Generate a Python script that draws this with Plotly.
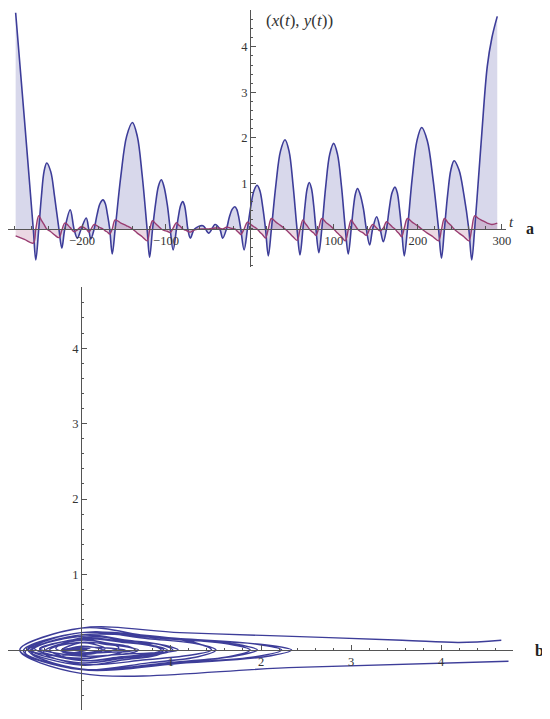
import plotly.graph_objects as go

# ---- data: time t, x(t) (blue), y(t) (purple) ----
T = [-279, -268.5, -258, -255,
     -251.5, -248.3, -245.2, -242, -237.2, -232.7, -227.5, -224,
     -220.5, -214, -209.5, -205.5,
     -201, -195, -192, -189.5,
     -185.5, -182, -178.5, -175, -172.3, -169.7, -167, -164,
     -160.5, -153.7, -146.8, -140, -134.2, -128.3, -122.5, -119.5,
     -116, -112.5, -109, -105.6, -102.5, -98.5, -95, -91.5,
     -87.5, -85, -82.5, -80, -78, -76, -74, -71,
     -66, -56, -49, -41.6, -36, -32.5,
     -28, -24.7, -21.3, -18, -15.7, -13.3, -11, -7,
     -3, 0.8, 4.7, 8.5, 11.8, 15.2, 18.5, 21.8,
     25.5, 30.9, 36.3, 41.7, 46.5, 51.2, 56, 59.5,
     63, 65.5, 68.1, 70.6, 73.2, 75.9, 78.5, 82,
     85.5, 90.2, 94.9, 99.6, 104.2, 108.9, 113.5, 117,
     120.5, 123, 125.5, 128, 131, 135, 138.5, 142.5,
     146, 150.8, 155, 158.7,
     162.5, 165.9, 169.2, 172.6, 175.3, 177.9, 180.5, 183.7,
     187.5, 193.1, 198.8, 204.4, 211.1, 217.8, 224.5, 228,
     231.5, 235.3, 239.2, 243, 248.8, 254.7, 260.5, 264,
     267.5, 272, 276, 282.5, 288, 294.4]
X = [4.75, 2.4, 0, -0.68,
     0, 0.72, 1.26, 1.45, 1.26, 0.72, 0, -0.42,
     0, 0.42, 0, -0.2,
     0, 0.24, 0, -0.22,
     0, 0.32, 0.56, 0.64, 0.56, 0.32, 0, -0.55,
     0, 1.17, 2.04, 2.34, 2.04, 1.17, 0, -0.62,
     0, 0.54, 0.94, 1.08, 0.94, 0.54, 0, -0.46,
     0, 0.3, 0.52, 0.6, 0.52, 0.3, 0, -0.2,
     0, 0.07, -0.09, 0.1, 0, -0.2,
     0, 0.25, 0.43, 0.49, 0.43, 0.25, 0, -0.46,
     0, 0.48, 0.84, 0.96, 0.84, 0.48, 0, -0.59,
     0, 0.98, 1.71, 1.96, 1.71, 0.98, 0, -0.57,
     0, 0.51, 0.89, 1.02, 0.89, 0.51, 0, -0.52,
     0, 0.94, 1.64, 1.88, 1.64, 0.94, 0, -0.55,
     0, 0.45, 0.77, 0.89, 0.77, 0.45, 0, -0.35,
     0, 0.27, 0, -0.28,
     0, 0.46, 0.8, 0.92, 0.8, 0.46, 0, -0.59,
     0, 1.11, 1.94, 2.23, 1.94, 1.11, 0, -0.64,
     0, 0.75, 1.3, 1.5, 1.3, 0.75, 0, -0.68,
     0, 1.1, 2.1, 3.57, 4.2, 4.67]
Y = [-0.15, -0.23, -0.31, 0.0,
     0.29, 0.19, 0.10, 0.0, -0.06, -0.13, -0.19, -0.03,
     0.13, 0.03, -0.06, -0.02,
     0.05, 0.0, -0.07, -0.01,
     0.1, 0.07, 0.03, 0.0, -0.04, -0.07, -0.11, 0.0,
     0.2, 0.13, 0.07, 0.0, -0.09, -0.17, -0.26, -0.03,
     0.18, 0.12, 0.06, 0.0, -0.03, -0.05, -0.08, 0.02,
     0.14, 0.09, 0.05, 0.0, -0.02, -0.03, -0.05, -0.07,
     -0.02, 0.0, 0.0, 0.02, 0.02, 0.0,
     0.04, 0.03, 0.01, 0.0, -0.04, -0.08, -0.12, 0.0,
     0.15, 0.1, 0.05, 0.0, -0.07, -0.13, -0.2, 0.0,
     0.23, 0.15, 0.08, 0.0, -0.08, -0.17, -0.25, -0.02,
     0.2, 0.13, 0.07, 0.0, -0.05, -0.09, -0.14, 0.03,
     0.23, 0.15, 0.08, 0.0, -0.09, -0.17, -0.26, -0.02,
     0.2, 0.13, 0.07, 0.0, -0.05, -0.09, -0.14, 0.0,
     0.1, 0.02, -0.04, 0.02,
     0.16, 0.11, 0.05, 0.0, -0.06, -0.11, -0.17, 0.02,
     0.23, 0.15, 0.08, 0.0, -0.09, -0.17, -0.26, -0.01,
     0.23, 0.15, 0.08, 0.0, -0.09, -0.17, -0.26, 0.0,
     0.29, 0.23, 0.19, 0.13, 0.1, 0.13]

# ticks
A_XTICKS = [-200, -100, 100, 200, 300]
A_XTICKTEXT = ["\u2212200", "\u2212100", "100", "200", "300"]
A_YTICKS = [1, 2, 3, 4]
B_XTICKS = [1, 2, 3, 4]
B_YTICKS = [1, 2, 3, 4]

BLUE = "#3d3d99"
PURPLE = "#993d71"
AXC = "#555555"
FONT = "Liberation Serif"

# the page body adds an 8px margin, so the figure is placed 8px in from the window corner
OFF = 8
W, H = 550 - OFF, 719 - OFF


def fx(px):  # window pixel -> paper fraction (x)
    return max(0.0, (px - OFF) / W)


def fy(py):  # window pixel -> paper fraction (y, from bottom)
    return min(1.0, 1 - (py - OFF) / H)


# panel geometry
A_XDOM = [fx(8), fx(506)]
A_YDOM = [fy(267), fy(10)]
A_XR = [-288.1, 304.8]
A_YR = [-0.835, 4.81]
B_XDOM = [fx(8), fx(513)]
B_YDOM = [fy(710), fy(287)]
B_XR = [-0.811, 4.8]
B_YR = [-0.795, 4.81]


def zero_pos(dom, rng):
    return dom[0] + (0 - rng[0]) / (rng[1] - rng[0]) * (dom[1] - dom[0])


fig = go.Figure()

# panel a fills
fig.add_trace(go.Scatter(x=T, y=X, mode="lines", line=dict(width=0, shape="spline", color=BLUE),
                         fill="tozeroy", fillcolor="rgba(61,61,153,0.2)", hoverinfo="skip",
                         xaxis="x", yaxis="y", showlegend=False))
fig.add_trace(go.Scatter(x=T, y=Y, mode="lines", line=dict(width=0, shape="spline", color=PURPLE),
                         fill="tozeroy", fillcolor="rgba(153,61,113,0.2)", hoverinfo="skip",
                         xaxis="x", yaxis="y", showlegend=False))
# panel a lines
fig.add_trace(go.Scatter(x=T, y=X, mode="lines", line=dict(width=1.6, shape="spline", color=BLUE),
                         xaxis="x", yaxis="y", showlegend=False))
fig.add_trace(go.Scatter(x=T, y=Y, mode="lines", line=dict(width=1.4, shape="spline", color=PURPLE),
                         xaxis="x", yaxis="y", showlegend=False))
# panel b: phase portrait (x, y)
fig.add_trace(go.Scatter(x=X, y=Y, mode="lines", line=dict(width=1.4, shape="spline", color=BLUE),
                         xaxis="x2", yaxis="y2", showlegend=False))

tickfont = dict(family=FONT, size=12.5, color="#333333")


def axis(dom, rng, pos, vals, text, minor_dt, side):
    return dict(domain=dom, range=rng, anchor="free", position=pos, side=side,
                automargin=False,
                showline=True, linecolor=AXC, linewidth=1, showgrid=False, zeroline=False,
                tickmode="array", tickvals=vals, ticktext=text, ticks="inside",
                ticklen=5, tickwidth=1, tickcolor=AXC, tickfont=tickfont,
                minor=dict(dtick=minor_dt, tick0=0, ticks="inside", ticklen=2.5,
                           tickcolor=AXC, showgrid=False),
                fixedrange=True)


fig.update_layout(
    width=W, height=H, margin=dict(l=0, r=0, t=0, b=0, autoexpand=False),
    paper_bgcolor="white", plot_bgcolor="rgba(0,0,0,0)",
    xaxis=axis(A_XDOM, A_XR, zero_pos(A_YDOM, A_YR), A_XTICKS, A_XTICKTEXT, 20, "bottom"),
    yaxis=axis(A_YDOM, A_YR, zero_pos(A_XDOM, A_XR), A_YTICKS, [str(v) for v in A_YTICKS], 0.2, "left"),
    xaxis2=axis(B_XDOM, B_XR, zero_pos(B_YDOM, B_YR), B_XTICKS, [str(v) for v in B_XTICKS], 0.2, "bottom"),
    yaxis2=axis(B_YDOM, B_YR, zero_pos(B_XDOM, B_XR), B_YTICKS, [str(v) for v in B_YTICKS], 0.2, "left"),
)

annos = [
    dict(x=A_XR[1], y=0, xref="x", yref="y", text="<i>t</i>", showarrow=False,
         xanchor="left", yanchor="bottom", xshift=1, yshift=-3,
         font=dict(family=FONT, size=15, color="#333")),
    dict(x=0, y=A_YR[1], xref="x", yref="y", text="(<i>x</i>(<i>t</i>), <i>y</i>(<i>t</i>))",
         showarrow=False, xanchor="left", yanchor="top", xshift=14, yshift=1,
         font=dict(family=FONT, size=17, color="#333")),
    dict(x=fx(530), y=zero_pos(A_YDOM, A_YR), xref="paper", yref="paper", text="<b>a</b>",
         showarrow=False, xanchor="center", yanchor="middle",
         font=dict(family=FONT, size=16, color="#222")),
    dict(x=fx(539), y=zero_pos(B_YDOM, B_YR), xref="paper", yref="paper", text="<b>b</b>",
         showarrow=False, xanchor="center", yanchor="middle",
         font=dict(family=FONT, size=16, color="#222")),
]
fig.update_layout(annotations=annos)

fig.write_html("out.html")
